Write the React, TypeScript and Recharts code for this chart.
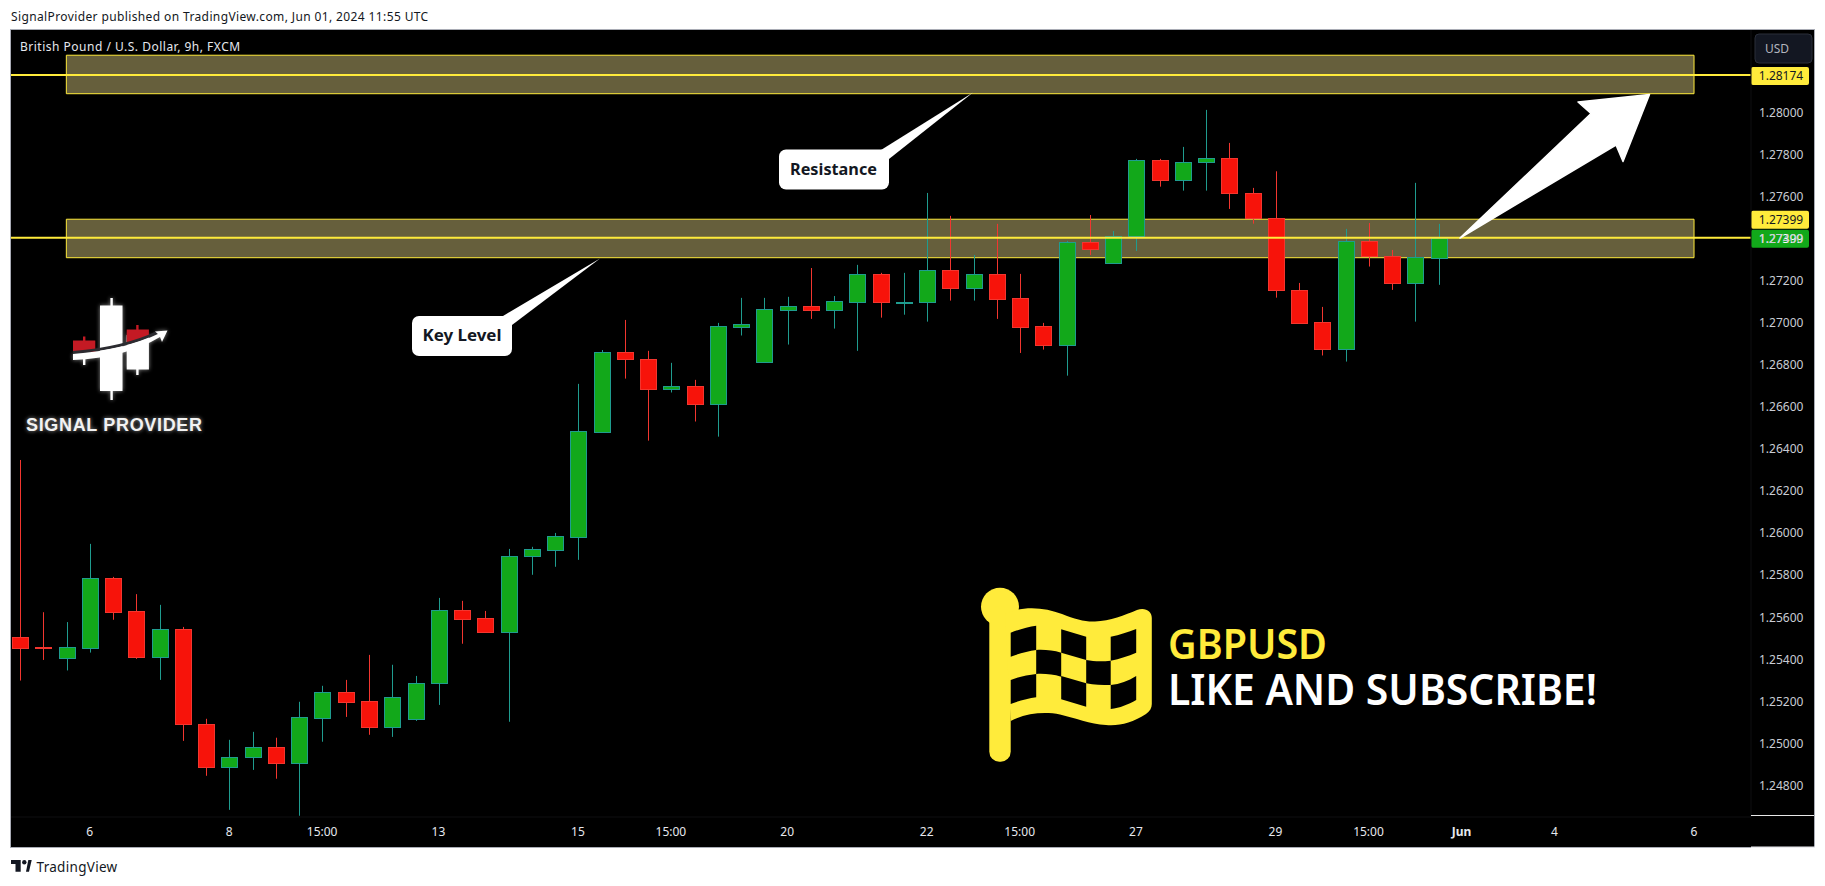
import { ComposedChart, Bar, XAxis, YAxis, ReferenceArea, ReferenceLine } from 'recharts';

// bar number on the time axis, one value per candle
const opens = [1.25505, 1.25458, 1.25404, 1.25456, 1.25786, 1.25629, 1.25409, 1.25543, 1.25092, 1.24886, 1.24933, 1.24982, 1.24905, 1.25123, 1.25244, 1.25201, 1.2508, 1.25118, 1.25285, 1.25634, 1.25596, 1.25532, 1.25889, 1.25922, 1.25984, 1.26483, 1.2686, 1.26827, 1.26684, 1.26699, 1.26612, 1.26982, 1.26816, 1.27063, 1.27079, 1.27063, 1.27101, 1.27231, 1.27097, 1.27097, 1.2725, 1.27168, 1.27231, 1.27117, 1.26984, 1.26897, 1.27383, 1.27287, 1.27412, 1.27773, 1.27681, 1.27764, 1.27783, 1.27616, 1.27498, 1.27155, 1.27003, 1.26875, 1.27388, 1.2732, 1.27192, 1.27311];
const highs = [1.26348, 1.25624, 1.25577, 1.25949, 1.25792, 1.2571, 1.25659, 1.25554, 1.25117, 1.25017, 1.25055, 1.25027, 1.25198, 1.25274, 1.25302, 1.25421, 1.25374, 1.25321, 1.25692, 1.25678, 1.2563, 1.25925, 1.25935, 1.26001, 1.2671, 1.26871, 1.27014, 1.26867, 1.2681, 1.26729, 1.27, 1.27119, 1.27119, 1.27124, 1.27261, 1.27128, 1.27276, 1.27238, 1.27238, 1.27618, 1.27509, 1.27323, 1.27471, 1.27233, 1.27, 1.2739, 1.27513, 1.27437, 1.2778, 1.2778, 1.27837, 1.28013, 1.27856, 1.27642, 1.27721, 1.2719, 1.27076, 1.27447, 1.27475, 1.27347, 1.27666, 1.27471];
const lows = [1.25299, 1.25397, 1.25347, 1.25432, 1.25588, 1.25402, 1.25302, 1.25012, 1.24846, 1.24684, 1.24874, 1.24832, 1.24656, 1.25008, 1.25126, 1.25041, 1.25031, 1.25107, 1.25183, 1.25474, 1.25526, 1.25103, 1.25802, 1.2584, 1.25873, 1.26478, 1.26735, 1.2644, 1.26669, 1.26531, 1.26459, 1.2694, 1.26816, 1.26897, 1.27019, 1.26973, 1.26867, 1.27025, 1.27039, 1.27006, 1.27106, 1.27106, 1.27019, 1.26857, 1.26873, 1.26749, 1.27323, 1.27287, 1.27342, 1.27648, 1.27629, 1.27629, 1.27542, 1.27472, 1.2712, 1.26997, 1.26845, 1.26816, 1.27268, 1.27157, 1.27006, 1.27181];
const closes = [1.25456, 1.25456, 1.25458, 1.25786, 1.25627, 1.25409, 1.25543, 1.2509, 1.24886, 1.24935, 1.24982, 1.24905, 1.25125, 1.25244, 1.25199, 1.2508, 1.2522, 1.25286, 1.25634, 1.25594, 1.25532, 1.2589, 1.25924, 1.25986, 1.26486, 1.26862, 1.26826, 1.26684, 1.26699, 1.26612, 1.26984, 1.26994, 1.27065, 1.27079, 1.27063, 1.27103, 1.27231, 1.27097, 1.27098, 1.2725, 1.27168, 1.27231, 1.27116, 1.26982, 1.26897, 1.27383, 1.2735, 1.27412, 1.27773, 1.27681, 1.27764, 1.27783, 1.27616, 1.27498, 1.27155, 1.27001, 1.26875, 1.27388, 1.2732, 1.27192, 1.27312, 1.27402];

const priceTicks = [1.248, 1.25, 1.252, 1.254, 1.256, 1.258, 1.26, 1.262, 1.264, 1.266, 1.268, 1.27, 1.272, 1.274, 1.276, 1.278, 1.28];
const timeTicks = [3, 9, 13, 18, 24, 28, 33, 39, 43, 48, 54, 58, 62, 66, 72];
const timeLabels = ['6', '8', '15:00', '13', '15', '15:00', '20', '22', '15:00', '27', '29', '15:00', 'Jun', '4', '6'];

const zones = [
    { top: 1.28273, bottom: 1.2809 },
    { top: 1.27493, bottom: 1.2731 },
];

const candles = opens.map((open, i) => ({
    bar: i,
    open,
    close: closes[i],
    high: highs[i],
    low: lows[i],
    range: [lows[i], highs[i]],
}));

const UP_FILL = '#12a81a';
const UP_EDGE = '#1f9c8f';
const DOWN_FILL = '#f7130a';
const DOWN_EDGE = '#f2362f';
const YELLOW = '#ffeb3b';
const FONT = '"Noto Sans", sans-serif';

function Candle(props: any) {
    const { x, y, width, height, payload } = props;
    const { open, close, high, low } = payload;
    const k = Math.abs(height) / (high - low);
    const up = close >= open;
    const cx = Math.round(x + width / 2) + 0.5;
    const bodyTop = Math.round(y + (high - Math.max(open, close)) * k) + 0.5;
    const bodyBottom = Math.round(y + (high - Math.min(open, close)) * k) + 0.5;
    return (
        <g>
            <line x1={cx} x2={cx} y1={y} y2={y + Math.abs(height)} stroke={up ? UP_EDGE : DOWN_EDGE} strokeWidth={1} />
            <rect
                x={cx - 8}
                y={bodyTop}
                width={16}
                height={Math.max(bodyBottom - bodyTop, 1)}
                fill={up ? UP_FILL : DOWN_FILL}
                stroke={up ? UP_EDGE : DOWN_EDGE}
                strokeWidth={1}
            />
        </g>
    );
}

function TimeTick({ x, y, payload }: any) {
    const text = timeLabels[timeTicks.indexOf(payload.value)];
    return (
        <text x={x} y={y + 11} textAnchor="middle" fill="#e6e8ee" fontSize={12} fontFamily={FONT} fontWeight={text === 'Jun' ? 700 : 400}>
            {text}
        </text>
    );
}

function priceTag(value: string, bg: string, fg: string, shift: number) {
    return ({ viewBox }: any) => {
        const left = viewBox.x + viewBox.width;
        const cy = viewBox.y + shift;
        return (
            <g>
                <rect x={left} y={cy - 9} width={58} height={18} rx={2} fill={bg} />
                <text x={left + 30} y={cy + 4.5} textAnchor="middle" fontSize={12} fontFamily={FONT} fill={fg}>
                    {value}
                </text>
            </g>
        );
    };
}

export default function App() {
    return (
        <div style={{ position: 'fixed', left: 0, top: 0, width: 1825, height: 886, background: '#fff', overflow: 'hidden' }}>
            <div style={{ position: 'absolute', left: 11, top: 8, fontFamily: FONT, fontSize: 12, letterSpacing: 0.38, color: '#131722', whiteSpace: 'nowrap' }}>
                SignalProvider published on TradingView.com, Jun 01, 2024 11:55 UTC
            </div>
            <div style={{ position: 'absolute', left: 11, top: 30, width: 1803, height: 817, background: '#000', outline: '1px solid #a9acb5' }}>
                <ComposedChart width={1803} height={817} data={candles} margin={{ top: 0, right: 0, bottom: 0, left: 0 }}>
                    <XAxis
                        dataKey="bar"
                        type="number"
                        domain={[-0.38, 74.45]}
                        ticks={timeTicks}
                        tick={<TimeTick />}
                        height={30}
                        interval={0}
                        axisLine={{ stroke: '#0e0e10' }}
                        tickLine={false}
                        allowDataOverflow
                    />
                    <YAxis
                        orientation="right"
                        type="number"
                        domain={[1.2465, 1.28393]}
                        ticks={priceTicks}
                        width={63}
                        interval={0}
                        tickFormatter={(v: number) => v.toFixed(5)}
                        tick={{ fill: '#c9ccd4', fontSize: 12, fontFamily: FONT }}
                        axisLine={{ stroke: '#0e0e10' }}
                        tickLine={false}
                        allowDataOverflow
                    />
                    {zones.map((z) => (
                        <ReferenceArea
                            key={z.top}
                            x1={2}
                            x2={72}
                            y1={z.bottom}
                            y2={z.top}
                            fill="#665f3c"
                            fillOpacity={1}
                            stroke={YELLOW}
                            strokeWidth={1}
                        />
                    ))}
                    <ReferenceLine y={1.28179} stroke={YELLOW} strokeWidth={2} label={priceTag('1.28174', YELLOW, '#131722', 1)} />
                    <Bar dataKey="range" barSize={16} shape={<Candle />} isAnimationActive={false} />
                    <ReferenceLine y={1.27405} stroke={YELLOW} strokeWidth={2} label={priceTag('1.27399', YELLOW, '#131722', -18)} />
                    <ReferenceLine y={1.27405} stroke="none" label={priceTag('1.27399', UP_FILL, '#ffffff', 1)} />
                </ComposedChart>
            </div>
            <Overlay />
        </div>
    );
}

// drawings on top of the chart, in page pixels
function Overlay() {
    return (
        <svg width={1825} height={886} style={{ position: 'absolute', left: 0, top: 0, pointerEvents: 'none' }}>
            <defs>
                <filter id="glow" x="-20%" y="-20%" width="140%" height="140%">
                    <feGaussianBlur stdDeviation="2.2" />
                </filter>
            </defs>

            {/* USD button */}
            <rect x={1755} y={34} width={57} height={29} rx={4} fill="#131722" stroke="#2a2e39" />
            <text x={1765} y={53} fontSize={12} fontFamily={FONT} fill="#b2b5be">USD</text>

            <text x={20} y={51} fontSize={12} letterSpacing={0.5} fontFamily={FONT} fill="#e6e8ee">British Pound / U.S. Dollar, 9h, FXCM</text>

            {/* bits of the price scale frame */}
            <rect x={1751} y={815} width={63} height={1} fill="#e8e8e8" />
            <rect x={1751} y={846.5} width={64} height={1.5} fill="#ececf0" />

            {/* callouts */}
            <path d="M503 316 L600 258.5 L512 325 Z" fill="#fff" />
            <rect x={412} y={316} width={100} height={40} rx={7} fill="#fff" />
            <text x={422.5} y={341} fontSize={16} fontWeight={700} fontFamily={FONT} fill="#131722" textLength={79} lengthAdjust="spacingAndGlyphs">Key Level</text>
            <path d="M881 150 L973 92.5 L889 159 Z" fill="#fff" />
            <rect x={779} y={149.5} width={110} height={40} rx={7} fill="#fff" />
            <text x={790} y={175} fontSize={16} fontWeight={700} fontFamily={FONT} fill="#131722" textLength={87} lengthAdjust="spacingAndGlyphs">Resistance</text>

            {/* arrow */}
            <path
                d="M1460 238 L1591 113.5 L1578 102 L1649.5 94.5 L1623 161.5 L1616 145 Z"
                fill="#fff"
                stroke="#fff"
                strokeWidth={1.5}
                strokeLinejoin="round"
            />

            <Logo />
            <Flag />

            {/* footer mark */}
            <path d="M11 860 H20.7 V871.7 H15.5 V864 H11 Z" fill="#131722" />
            <circle cx={24.3} cy={862.3} r={2.2} fill="#131722" />
            <path d="M26 871.7 L28.3 860 H31.7 L29 871.7 Z" fill="#131722" />
            <text x={36.5} y={872} fontSize={13.5} letterSpacing={0.3} fontFamily={FONT} fill="#131722">TradingView</text>
        </svg>
    );
}

function Logo() {
    const swoosh = 'M73 354 Q125 350 158 334 L155 331.5 L167.5 330.5 L162 342 L160 337 Q125 358 73 360 Z';
    const white = (
        <g fill="#fff">
            <rect x={100} y={305.5} width={22.5} height={85.5} />
            <rect x={110.4} y={298} width={2.4} height={102} />
            <rect x={126.7} y={335} width={22.2} height={34.5} />
            <rect x={136.2} y={365} width={2.4} height={10} />
            <rect x={83} y={355} width={2.4} height={10} />
        </g>
    );
    return (
        <g>
            <g filter="url(#glow)" opacity={0.55}>{white}<path d={swoosh} fill="#fff" /></g>
            <rect x={73} y={340.5} width={22.3} height={11.5} fill="#c41a24" />
            <rect x={83} y={336.5} width={2.4} height={5} fill="#c41a24" />
            {white}
            <path d="M126.7 329.5 H148.9 V336 L126.7 343.5 Z" fill="#c41a24" />
            <rect x={136.2} y={325} width={2.4} height={5} fill="#c41a24" />
            <path d="M73 352.5 Q125 348 157 332.5" fill="none" stroke="#2b2b30" strokeWidth={3} />
            <path d={swoosh} fill="#fff" />
            <text x={26} y={431} fontSize={18} fontWeight={700} fontFamily="Liberation Sans" fill="#fff" opacity={0.6} filter="url(#glow)" textLength={176}>SIGNAL PROVIDER</text>
            <text x={26} y={431} fontSize={18} fontWeight={700} fontFamily="Liberation Sans" fill="#f2f2f2" textLength={176}>SIGNAL PROVIDER</text>
        </g>
    );
}

function Flag() {
    const cells = [
        'M1010.7 632.7 C1018 630 1028 626.5 1036.2 625.7 V650 C1028 651 1018 654 1010.7 656.7 Z',
        'M1061.2 629.3 L1086.2 636.7 V660 L1061.2 652.7 Z',
        'M1110.7 636.7 C1120 635 1128 632 1136.2 629 V652.7 C1128 656 1120 659 1110.7 660.7 Z',
        'M1036.2 650 C1045 649.5 1053 650.5 1061.2 652.7 V676.7 C1053 674.5 1045 673.5 1036.2 674 Z',
        'M1086.2 660 C1094 661.5 1102 661.5 1110.7 660.7 V685 C1102 685 1094 685 1086.2 683.3 Z',
        'M1010.7 680 C1018 677 1028 675 1036.2 674 V697.3 C1028 698.5 1018 701 1010.7 704 Z',
        'M1061.2 676 L1086.2 683.3 V706.7 L1061.2 699.3 Z',
        'M1110.7 685 C1120 684 1128 681 1136.2 676 V700 C1128 704.5 1120 708 1110.7 709 Z',
    ];
    return (
        <g>
            <ellipse cx={1000} cy={606.7} rx={19} ry={19} fill={YELLOW} />
            <rect x={989.3} y={606} width={21.4} height={155.7} rx={10} fill={YELLOW} />
            <path
                d="M1005 614 C1025 605 1045 608 1062 614 C1075 619 1085 622 1095 621.5 C1110 621 1125 615 1137 610 C1145 607 1151.8 611 1151.8 618 V704 C1151.8 708 1150 711 1146 714 C1132 723 1120 726 1106 725 C1090 724 1075 718 1060 714.5 C1045 711.5 1025 713 1010.7 721 Z"
                fill={YELLOW}
            />
            {cells.map((d) => <path key={d} d={d} fill="#000" />)}
            <text x={1168} y={658.5} fontSize={42} fontWeight={600} fontFamily={FONT} fill={YELLOW} textLength={159} lengthAdjust="spacingAndGlyphs">GBPUSD</text>
            <text x={1168} y={705} fontSize={43} fontWeight={600} fontFamily={FONT} fill="#fff" textLength={429} lengthAdjust="spacingAndGlyphs">LIKE AND SUBSCRIBE!</text>
        </g>
    );
}
